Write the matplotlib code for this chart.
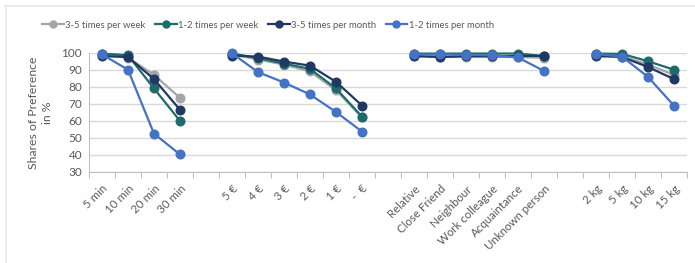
import numpy as np
import matplotlib
matplotlib.use("Agg")
import matplotlib.pyplot as plt
from matplotlib.lines import Line2D

plt.rcParams['font.family'] = ['Lato', 'DejaVu Sans']

# categories, '' = empty gap slot between the groups
categories = ["5 min", "10 min", "20 min", "30 min", "",
              "5 €", "4 €", "3 €", "2 €", "1 €", "-  €", "",
              "Relative", "Close Friend", "Neighbour", "Work colleague",
              "Acquaintance", "Unknown person", "",
              "2 kg", "5 kg", "10 kg", "15 kg"]

week_3_5 = [99, 97, 87, 73.5, None,
            99, 96, 93, 89, 78, 62, None,
            98, 97.5, 97.5, 97.5, 97.5, 97, None,
            98.5, 98, 93, 87]
week_1_2 = [99.5, 98.5, 79, 60, None,
            99.5, 96.8, 93.6, 90.5, 79, 62.5, None,
            99.5, 99.5, 99.5, 99.5, 99.5, 98, None,
            99.5, 99.3, 95, 90]
month_3_5 = [98, 97.5, 84.5, 66.5, None,
             98.3, 97.7, 94.8, 92.4, 82.9, 69, None,
             98, 97.5, 98, 98, 98, 98.2, None,
             98, 97.5, 91.6, 84.5]
month_1_2 = [99, 90, 52.5, 40.3, None,
             99.6, 88.6, 82.5, 75.5, 65.2, 53.7, None,
             99, 99, 98.8, 98.5, 97.2, 89.3, None,
             99.2, 97.7, 85.8, 68.9]

series = [("3-5 times per week", week_3_5, "#a5a5a5"),
          ("1-2 times per week", week_1_2, "#1e6b6b"),
          ("3-5 times per month", month_3_5, "#203864"),
          ("1-2 times per month", month_1_2, "#4472c4")]

fig = plt.figure(figsize=(6.95, 2.63), dpi=100)
ax = fig.add_axes([89 / 695, 1 - 172 / 263, (687 - 89) / 695, (172 - 52.7) / 263])

x = np.arange(len(categories))
for name, vals, col in series:
    y = np.array([np.nan if v is None else v for v in vals], dtype=float)
    ax.plot(x, y, color=col, lw=1.6, marker='o', ms=6.2, label=name,
            clip_on=False, zorder=3)

ax.set_xlim(-0.5, len(categories) - 0.5)
ax.set_ylim(30, 100)
ax.set_yticks(range(30, 101, 10))
ax.grid(axis='y', color='#d9d9d9', lw=1)
ax.set_axisbelow(True)

# category boundary ticks (excel style)
ax.set_xticks(np.arange(len(categories) + 1) - 0.5, minor=False)
ax.set_xticklabels([])
ax.tick_params(axis='x', which='major', length=4, color='#bfbfbf')
ax.set_xticks(x, minor=True)
ax.set_xticklabels(categories, minor=True, rotation=45, ha='right',
                   rotation_mode='anchor', fontsize=8.3, color='#595959')
ax.tick_params(axis='x', which='minor', length=0, pad=8)
ax.tick_params(axis='y', length=0, labelsize=8.5, labelcolor='#595959', pad=5)

for s in ['top', 'right']:
    ax.spines[s].set_visible(False)
for s in ['left', 'bottom']:
    ax.spines[s].set_color('#bfbfbf')

ax.set_ylabel("Shares of Preference\nin %", fontsize=8.8, color='#595959',
              labelpad=6, linespacing=1.35)

handles = [Line2D([], [], color=c, lw=1.6, marker='o', ms=5) for _, _, c in series]
fig.legend(handles, [n for n, _, _ in series], loc='center',
           bbox_to_anchor=(268 / 695, 1 - 25 / 263), ncol=4, frameon=False,
           fontsize=6.8, handlelength=2.3, handletextpad=0.15, columnspacing=1.0,
           labelcolor='#595959')

# chart area frame (top and left edges visible)
fig.add_artist(Line2D([5 / 695, 1], [1 - 5.5 / 263] * 2, color='#ececec', lw=1.5))
fig.add_artist(Line2D([6 / 695] * 2, [0, 1 - 5.5 / 263], color='#ececec', lw=1.5))

fig.savefig("out.png", dpi=100)
